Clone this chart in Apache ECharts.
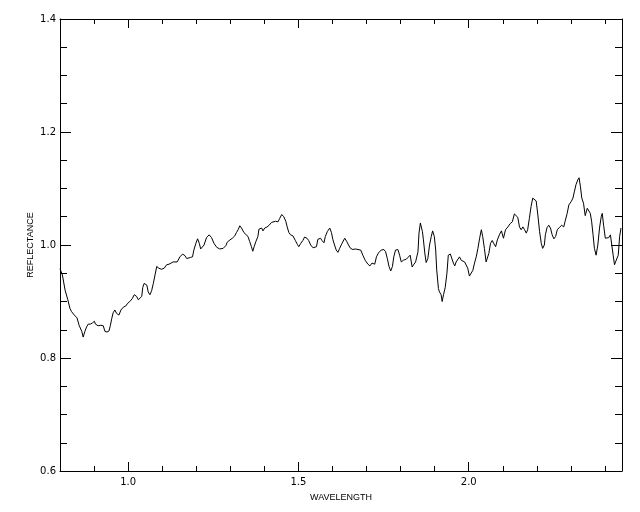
<!DOCTYPE html>
<html>
<head>
<meta charset="utf-8">
<script src="https://cdn.jsdelivr.net/npm/echarts@6/dist/echarts.min.js"></script>
<style>
html,body{margin:0;padding:0;background:#fff;}
#chart{width:640px;height:512px;}
</style>
</head>
<body>
<div id="chart"></div>
<script>
// ---- data ----
const wavelength = [
  0.800,0.803,0.807,0.815,0.823,0.829,0.834,0.839,0.842,0.847,
  0.850,0.856,0.864,0.868,0.873,0.878,0.883,0.889,0.895,0.901,
  0.904,0.909,0.912,0.920,0.927,0.932,0.938,0.944,0.948,0.952,
  0.956,0.961,0.966,0.973,0.979,0.986,0.993,0.999,1.005,1.012,
  1.018,1.025,1.030,1.035,1.040,1.043,1.047,1.051,1.055,1.059,
  1.064,1.069,1.074,1.079,1.084,1.090,1.098,1.106,1.113,1.120,
  1.126,1.132,1.137,1.144,1.152,1.160,1.167,1.172,1.176,1.183,
  1.189,1.193,1.199,1.204,1.209,1.213,1.218,1.223,1.230,1.238,
  1.245,1.252,1.260,1.269,1.279,1.287,1.291,1.299,1.306,1.313,
  1.318,1.323,1.328,1.333,1.340,1.345,1.352,1.357,1.362,1.366,
  1.370,1.375,1.381,1.384,1.392,1.396,1.401,1.408,1.414,1.421,
  1.426,1.433,1.440,1.445,1.451,1.457,1.463,1.467,1.472,1.477,
  1.484,1.491,1.497,1.501,1.507,1.513,1.518,1.525,1.530,1.536,
  1.543,1.548,1.553,1.557,1.565,1.569,1.575,1.579,1.585,1.592,
  1.597,1.601,1.606,1.611,1.616,1.621,1.628,1.636,1.642,1.647,
  1.653,1.660,1.667,1.675,1.683,1.689,1.696,1.704,1.710,1.716,
  1.724,1.729,1.735,1.743,1.751,1.756,1.761,1.766,1.771,1.776,
  1.780,1.785,1.792,1.797,1.802,1.808,1.817,1.821,1.828,1.834,
  1.838,1.844,1.848,1.851,1.854,1.858,1.864,1.867,1.871,1.875,
  1.880,1.885,1.890,1.894,1.899,1.903,1.906,1.911,1.914,1.919,
  1.922,1.926,1.931,1.936,1.940,1.946,1.950,1.955,1.959,1.963,
  1.968,1.973,1.978,1.983,1.988,1.993,1.997,2.002,2.007,2.012,
  2.017,2.022,2.027,2.032,2.037,2.041,2.046,2.051,2.055,2.059,
  2.064,2.069,2.074,2.079,2.084,2.090,2.096,2.102,2.108,2.115,
  2.122,2.128,2.134,2.139,2.144,2.147,2.149,2.154,2.159,2.164,
  2.169,2.173,2.178,2.183,2.188,2.193,2.198,2.203,2.208,2.213,
  2.217,2.222,2.225,2.230,2.235,2.240,2.245,2.250,2.255,2.260,
  2.266,2.273,2.279,2.283,2.289,2.294,2.301,2.306,2.310,2.315,
  2.320,2.324,2.328,2.332,2.337,2.342,2.348,2.352,2.357,2.361,
  2.365,2.369,2.374,2.379,2.384,2.389,2.392,2.396,2.401,2.406,
  2.411,2.416,2.420,2.424,2.428,2.431,2.436,2.439,2.443,2.447
];
const reflectance = [
  0.958,0.956,0.947,0.920,0.903,0.888,0.882,0.885,0.876,0.878,
  0.871,0.858,0.847,0.837,0.847,0.855,0.860,0.860,0.862,0.865,
  0.860,0.861,0.857,0.858,0.857,0.847,0.846,0.848,0.858,0.870,
  0.880,0.885,0.879,0.876,0.885,0.890,0.892,0.897,0.900,0.905,
  0.912,0.909,0.903,0.900,0.909,0.925,0.932,0.935,0.929,0.917,
  0.912,0.919,0.932,0.947,0.962,0.959,0.957,0.959,0.965,0.966,
  0.968,0.970,0.969,0.970,0.979,0.984,0.981,0.976,0.978,0.978,
  0.979,0.991,1.003,1.011,1.003,0.993,0.992,1.000,1.013,1.018,
  1.013,1.003,0.996,0.993,0.994,0.999,1.005,1.009,1.012,1.016,
  1.022,1.027,1.034,1.030,1.022,1.021,1.015,1.006,0.997,0.989,
  0.997,1.006,1.015,1.028,1.030,1.025,1.030,1.032,1.035,1.040,
  1.038,1.042,1.041,1.047,1.054,1.050,1.042,1.032,1.022,1.018,
  1.016,1.008,1.001,0.997,1.003,1.008,1.014,1.012,1.008,1.000,
  0.995,0.992,0.997,1.010,1.012,1.008,1.004,1.015,1.024,1.030,
  1.022,1.010,1.000,0.991,0.987,0.994,1.003,1.012,1.006,1.000,
  0.994,0.992,0.993,0.992,0.991,0.982,0.973,0.966,0.963,0.968,
  0.966,0.979,0.986,0.991,0.992,0.988,0.976,0.962,0.954,0.962,
  0.979,0.991,0.992,0.982,0.970,0.973,0.975,0.978,0.982,0.961,
  0.965,0.970,0.968,0.988,1.021,1.039,1.024,1.009,0.986,0.969,
  0.976,1.000,1.015,1.025,1.015,0.991,0.956,0.923,0.917,0.912,
  0.900,0.912,0.925,0.950,0.982,0.984,0.981,0.968,0.963,0.970,
  0.968,0.979,0.973,0.976,0.970,0.968,0.959,0.945,0.947,0.955,
  0.968,0.979,0.994,1.012,1.027,1.015,0.994,0.970,0.968,0.985,
  1.003,1.008,1.002,0.997,1.009,1.018,1.025,1.012,1.027,1.032,
  1.038,1.041,1.055,1.056,1.049,1.039,1.032,1.027,1.032,1.027,
  1.021,1.027,1.047,1.068,1.083,1.084,1.078,1.053,1.024,1.003,
  0.994,1.000,1.018,1.031,1.035,1.030,1.018,1.011,1.015,1.027,
  1.031,1.035,1.032,1.042,1.056,1.071,1.077,1.083,1.094,1.107,
  1.115,1.119,1.103,1.083,1.074,1.052,1.065,1.068,1.056,1.041,
  1.018,0.994,0.982,1.000,1.030,1.050,1.056,1.035,1.012,1.009,
  1.013,1.018,1.000,0.982,0.965,0.970,0.970,0.982,1.015,1.030
];
const xRange = [0.8, 2.45];
const yRange = [0.6, 1.4];
const xMajorTicks = [1.0, 1.5, 2.0];
const xMinorTicks = [0.9, 1.1, 1.2, 1.3, 1.4, 1.6, 1.7, 1.8, 1.9, 2.1, 2.2, 2.3, 2.4];
const yMajorTicks = [0.6, 0.8, 1.0, 1.2, 1.4];
const yMinorTicks = [0.65, 0.7, 0.75, 0.85, 0.9, 0.95, 1.05, 1.1, 1.15, 1.25, 1.3, 1.35];
const xTitle = 'WAVELENGTH';
const yTitle = 'REFLECTANCE';

// ---- chart ----
const chart = echarts.init(document.getElementById('chart'), null, {renderer: 'canvas'});
const lineCol = '#000';
const labelFont = {color: '#000', fontFamily: 'DejaVu Sans', fontSize: 10};

function makeAxis(pos, range, ticks, len, showLine, labels, extra) {
  return Object.assign({
    type: 'value', position: pos, min: range[0], max: range[1],
    axisLine: {show: showLine, onZero: false, lineStyle: {color: lineCol, width: 1}},
    axisTick: {show: true, inside: true, length: len, customValues: ticks,
               lineStyle: {color: lineCol, width: 1}},
    axisLabel: labels ? Object.assign({show: true, customValues: labels,
               formatter: v => Number(v).toFixed(1)}, labelFont) : {show: false},
    splitLine: {show: false}
  }, extra || {});
}

const pts = wavelength.map((w, i) => [w, reflectance[i]]);

chart.setOption({
  animation: false,
  backgroundColor: '#fff',
  grid: {left: 60, right: 18, top: 19, bottom: 41, containLabel: false},
  xAxis: [
    makeAxis('bottom', xRange, xMajorTicks, 9, true, xMajorTicks, {
      axisLabel: Object.assign({show: true, customValues: xMajorTicks, margin: 6,
        formatter: v => Number(v).toFixed(1)}, labelFont),
      name: xTitle, nameLocation: 'middle', nameGap: 22, nameMoveOverlap: false,
      nameTextStyle: {color: '#000', fontFamily: 'Liberation Sans', fontSize: 9}
    }),
    makeAxis('bottom', xRange, xMinorTicks, 5, false, null),
    makeAxis('top', xRange, xMajorTicks, 9, true, null),
    makeAxis('top', xRange, xMinorTicks, 5, false, null)
  ],
  yAxis: [
    makeAxis('left', yRange, yMajorTicks, 11, true, yMajorTicks, {
      axisLabel: Object.assign({show: true, customValues: yMajorTicks, margin: 4,
        formatter: v => Number(v).toFixed(1)}, labelFont),
      name: yTitle, nameLocation: 'middle', nameGap: 25, nameRotate: 90, nameMoveOverlap: false,
      nameTextStyle: {color: '#000', fontFamily: 'Liberation Sans', fontSize: 9}
    }),
    makeAxis('left', yRange, yMinorTicks, 7, false, null),
    makeAxis('right', yRange, yMajorTicks, 11, true, null),
    makeAxis('right', yRange, yMinorTicks, 7, false, null)
  ],
  series: [{
    type: 'line', xAxisIndex: 0, yAxisIndex: 0,
    data: pts, showSymbol: false, symbol: 'none', smooth: false,
    lineStyle: {color: '#000', width: 1}
  }]
});
</script>
</body>
</html>
